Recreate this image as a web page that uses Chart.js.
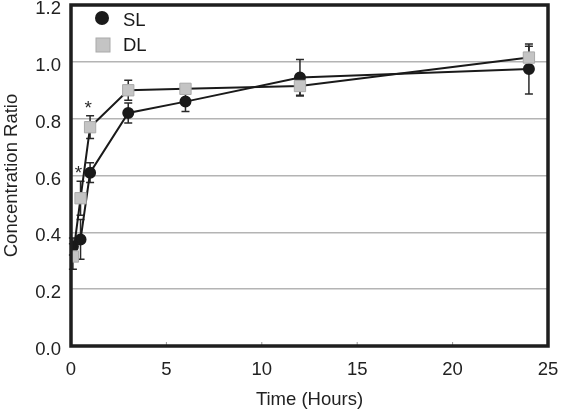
<!DOCTYPE html>
<html>
<head>
<meta charset="utf-8">
<script src="https://cdn.jsdelivr.net/npm/chart.js@4.4.0/dist/chart.umd.min.js"></script>
<style>
  html, body { margin: 0; padding: 0; background: #fff; }
  #wrap { width: 561px; height: 411px; }
</style>
</head>
<body>
<div id="wrap"><canvas id="chart"></canvas></div>
<script>
// Dados
const hours = [0.1, 0.5, 1, 3, 6, 12, 24];
const slValues = [0.35, 0.375, 0.61, 0.82, 0.86, 0.945, 0.975];
const slErrors = [0.03, 0.07, 0.035, 0.035, 0.035, 0.063, 0.088];
const dlValues = [0.315, 0.52, 0.77, 0.90, 0.905, 0.915, 1.015];
const dlErrors = [0.045, 0.06, 0.04, 0.035, 0.01, 0.035, 0.04];
const dlSignificant = [false, true, true, false, false, false, false];
const yTicks = [0, 0.2, 0.4, 0.6, 0.8, 1.0, 1.2];
const xTicks = [0, 5, 10, 15, 20, 25];

const FONT = '"Liberation Sans", Arial, sans-serif';
const FSIZE = 18.5;
const errs = [slErrors, dlErrors];

// Barras de erro e asteriscos
const errorBars = {
    id: 'errorBars',
    beforeDatasetsDraw(chart) {
        const ctx = chart.ctx;
        const x = chart.scales.x, y = chart.scales.y;
        ctx.save();
        ctx.strokeStyle = '#2a2a2a';
        ctx.lineWidth = 1.5;
        chart.data.datasets.forEach((ds, i) => {
            ds.data.forEach((p, j) => {
                const px = x.getPixelForValue(p.x);
                const top = y.getPixelForValue(p.y + errs[i][j]);
                const bot = y.getPixelForValue(p.y - errs[i][j]);
                ctx.beginPath();
                ctx.moveTo(px, top); ctx.lineTo(px, bot);
                ctx.moveTo(px - 4, top); ctx.lineTo(px + 4, top);
                ctx.moveTo(px - 4, bot); ctx.lineTo(px + 4, bot);
                ctx.stroke();
            });
        });
        ctx.restore();
    },
    afterDatasetsDraw(chart) {
        const ctx = chart.ctx;
        const x = chart.scales.x, y = chart.scales.y;
        ctx.save();
        ctx.fillStyle = '#2a2a2a';
        ctx.font = '19px ' + FONT;
        ctx.textAlign = 'center';
        ctx.textBaseline = 'middle';
        hours.forEach((t, j) => {
            if (!dlSignificant[j]) return;
            const px = x.getPixelForValue(t) - 2;
            const py = y.getPixelForValue(dlValues[j] + dlErrors[j]) - 7;
            ctx.fillText('*', px, py);
        });
        ctx.restore();
    }
};

// Moldura e legenda
const frame = {
    id: 'frame',
    afterDraw(chart) {
        const ctx = chart.ctx;
        const a = chart.chartArea;
        const x = chart.scales.x;
        ctx.save();
        // pequenos ticks no eixo x
        ctx.strokeStyle = '#999';
        ctx.lineWidth = 1;
        xTicks.forEach(t => {
            const px = x.getPixelForValue(t);
            ctx.beginPath();
            ctx.moveTo(px, a.bottom); ctx.lineTo(px, a.bottom - 4);
            ctx.stroke();
        });
        ctx.strokeStyle = '#1e1e1e';
        ctx.lineWidth = 3.5;
        ctx.strokeRect(a.left, a.top, a.right - a.left, a.bottom - a.top);

        // legenda
        ctx.font = FSIZE + 'px ' + FONT;
        ctx.textBaseline = 'middle';
        ctx.fillStyle = '#1a1a1a';
        ctx.beginPath();
        ctx.arc(a.left + 31, a.top + 13, 7, 0, Math.PI * 2);
        ctx.fill();
        ctx.fillText('SL', a.left + 52, a.top + 16);
        ctx.fillStyle = '#c4c4c4';
        ctx.fillRect(a.left + 25, a.top + 33, 14, 14);
        ctx.strokeStyle = '#aaa';
        ctx.lineWidth = 1;
        ctx.strokeRect(a.left + 25, a.top + 33, 14, 14);
        ctx.fillStyle = '#1a1a1a';
        ctx.fillText('DL', a.left + 52, a.top + 41);
        ctx.restore();
    }
};

new Chart(document.getElementById('chart'), {
    type: 'scatter',
    data: {
        datasets: [
            {
                label: 'SL',
                data: hours.map((t, i) => ({ x: t, y: slValues[i] })),
                showLine: true,
                borderColor: '#1a1a1a',
                borderWidth: 2,
                pointStyle: 'circle',
                pointRadius: 5,
                pointBackgroundColor: '#1a1a1a',
                pointBorderColor: '#1a1a1a',
                order: 2
            },
            {
                label: 'DL',
                data: hours.map((t, i) => ({ x: t, y: dlValues[i] })),
                showLine: true,
                borderColor: '#1a1a1a',
                borderWidth: 2,
                pointStyle: 'rect',
                pointRadius: 8,
                pointBackgroundColor: '#c4c4c4',
                pointBorderColor: '#aaa',
                pointBorderWidth: 1,
                order: 1
            }
        ]
    },
    options: {
        responsive: true,
        maintainAspectRatio: false,
        animation: false,
        layout: { autoPadding: false, padding: { top: 5, right: 13, left: 0, bottom: 0 } },
        plugins: { legend: { display: false }, tooltip: { enabled: false } },
        scales: {
            x: {
                type: 'linear',
                min: 0, max: 25,
                afterBuildTicks: s => { s.ticks = xTicks.map(v => ({ value: v })); },
                afterFit: s => { s.height = 65; s.paddingLeft = 0; s.paddingRight = 0; },
                grid: { display: false, drawTicks: false },
                border: { display: false },
                ticks: { color: '#222', font: { family: FONT, size: FSIZE }, padding: 13, maxRotation: 0 },
                title: { display: true, text: 'Time (Hours)', color: '#222', font: { family: FONT, size: FSIZE }, padding: { top: 2, bottom: 0 } }
            },
            y: {
                min: 0, max: 1.2,
                afterBuildTicks: s => { s.ticks = yTicks.map(v => ({ value: v })); },
                afterFit: s => { s.width = 71; s.paddingTop = 0; s.paddingBottom = 0; },
                grid: { color: '#b4b4b4', lineWidth: 1.5, drawTicks: false },
                border: { display: false },
                ticks: { color: '#222', font: { family: FONT, size: FSIZE }, padding: 10, labelOffset: 4, callback: v => v.toFixed(1) },
                title: { display: true, text: 'Concentration Ratio', color: '#222', font: { family: FONT, size: FSIZE }, padding: { top: 1, bottom: 0 } }
            }
        }
    },
    plugins: [errorBars, frame]
});
</script>
</body>
</html>
